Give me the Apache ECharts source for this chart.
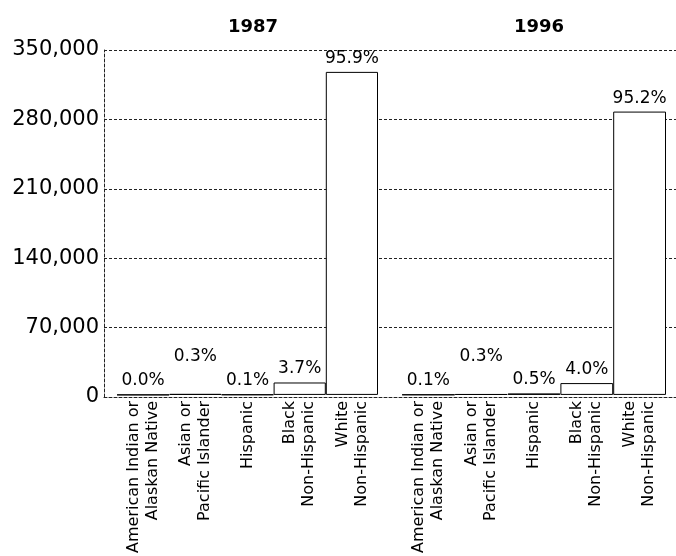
<!DOCTYPE html>
<html>
<head>
<meta charset="utf-8">
<script src="https://cdn.jsdelivr.net/npm/echarts@6/dist/echarts.min.js"></script>
<style>
html,body{margin:0;padding:0;background:#fff;}
#c{width:676px;height:556px;}
</style>
</head>
<body>
<div id="c"></div>
<script>
var categories = ['American Indian or\nAlaskan Native', 'Asian or\nPacific Islander', 'Hispanic', 'Black\nNon-Hispanic', 'White\nNon-Hispanic'];
var years = ['1987', '1996'];
var values1987 = [100, 1030, 340, 12600, 327800];
var values1996 = [300, 900, 1510, 12000, 287500];
var pct1987 = ['0.0%', '0.3%', '0.1%', '3.7%', '95.9%'];
var pct1996 = ['0.1%', '0.3%', '0.5%', '4.0%', '95.2%'];
var yMin = 0, yMax = 350000, yStep = 70000;

var FONT = 'DejaVu Sans';
var RAISED = [1]; // label staggered upward for these category indices
var chart = echarts.init(document.getElementById('c'));

function items(vals) {
  return vals.map(function (v, i) {
    var d = { value: v };
    if (RAISED.indexOf(i) >= 0) d.label = { offset: [0, -24] };
    return d;
  });
}
function barSeries(idx, vals, pcts) {
  return {
    type: 'bar', xAxisIndex: idx, yAxisIndex: idx,
    data: items(vals), barWidth: '100%',
    itemStyle: { color: '#fff', borderColor: '#000', borderWidth: 1 },
    label: {
      show: true, position: 'top', distance: 5,
      fontFamily: FONT, fontSize: 17, color: '#000',
      formatter: function (p) { return pcts[p.dataIndex]; }
    },
    silent: true
  };
}
var catAxis = function (g) {
  return {
    type: 'category', gridIndex: g, data: categories,
    axisLine: { show: false }, axisTick: { show: false },
    axisLabel: { interval: 0, rotate: 90, margin: 6, fontFamily: FONT, fontSize: 16, lineHeight: 19, color: '#000' }
  };
};
var hidY = function (g) {
  return { type: 'value', gridIndex: g, min: yMin, max: yMax, show: false, splitLine: { show: false } };
};

chart.setOption({
  animation: false,
  backgroundColor: '#fff',
  title: [
    { text: years[0], left: 248, top: 13, textAlign: 'center', textStyle: { fontFamily: FONT, fontSize: 18, fontWeight: 'bold', color: '#000' } },
    { text: years[1], left: 534, top: 13, textAlign: 'center', textStyle: { fontFamily: FONT, fontSize: 18, fontWeight: 'bold', color: '#000' } }
  ],
  grid: [
    { left: 104, right: 0, top: 50, bottom: 159 },
    { left: 117, width: 261, top: 50, bottom: 159 },
    { left: 402, width: 264, top: 50, bottom: 159 }
  ],
  xAxis: [
    { type: 'value', gridIndex: 0, min: 0, max: 1, axisLabel: { show: false }, axisTick: { show: false }, splitLine: { show: false },
      axisLine: { show: true, lineStyle: { color: '#222', width: 1, type: [3, 2] } } },
    catAxis(1), catAxis(2)
  ],
  yAxis: [
    { type: 'value', gridIndex: 0, min: yMin, max: yMax, interval: yStep,
      axisLine: { show: true, lineStyle: { color: '#222', width: 1, type: [3, 2] } },
      axisTick: { show: false },
      axisLabel: { margin: 5, fontFamily: FONT, fontSize: 21, color: '#000',
        formatter: function (v) { return v.toLocaleString('en-US'); } },
      splitLine: { show: true, lineStyle: { color: '#222', width: 1, type: [3, 2] } } },
    hidY(1), hidY(2)
  ],
  series: [
    barSeries(1, values1987, pct1987),
    barSeries(2, values1996, pct1996)
  ]
});
</script>
</body>
</html>
